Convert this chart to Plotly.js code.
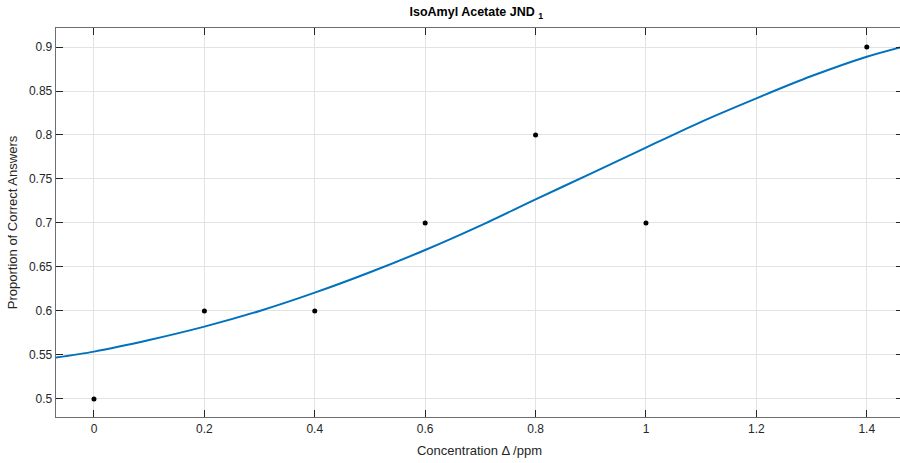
<!DOCTYPE html>
<html>
<head>
<meta charset="utf-8">
<script src="https://cdn.plot.ly/plotly-3.0.1.min.js"></script>
<style>
html,body{margin:0;padding:0;overflow:hidden;background:#fff;}
#chart{width:903px;height:463px;}
</style>
</head>
<body>
<div id="chart"></div>
<script>
// Observed data points
const concentration = [0, 0.2, 0.4, 0.6, 0.8, 1.0, 1.4];
const proportion = [0.5, 0.6, 0.6, 0.7, 0.8, 0.7, 0.9];

// Fitted curve
const fitX = [-0.069, 0, 0.1, 0.2, 0.3, 0.4, 0.5, 0.6, 0.7, 0.8, 0.9, 1.0, 1.1, 1.2, 1.3, 1.4, 1.466];
const fitY = [0.547, 0.5538, 0.567, 0.5822, 0.600, 0.6208, 0.644, 0.6693, 0.697, 0.7269, 0.756, 0.7857, 0.815, 0.8417, 0.867, 0.889, 0.9005];

// Axis ticks
const xTicks = [0, 0.2, 0.4, 0.6, 0.8, 1, 1.2, 1.4];
const xTickLabels = ['0', '0.2', '0.4', '0.6', '0.8', '1', '1.2', '1.4'];
const yTicks = [0.5, 0.55, 0.6, 0.65, 0.7, 0.75, 0.8, 0.85, 0.9];
const yTickLabels = ['0.5', '0.55', '0.6', '0.65', '0.7', '0.75', '0.8', '0.85', '0.9'];

const traces = [
  {
    x: fitX, y: fitY, type: 'scatter', mode: 'lines',
    line: {color: '#0072BD', width: 2, shape: 'spline', smoothing: 0.8},
    hoverinfo: 'skip', showlegend: false
  },
  {
    x: concentration, y: proportion, type: 'scatter', mode: 'markers',
    marker: {color: '#000000', size: 5},
    showlegend: false
  }
];

const axisCommon = {
  showline: true, linecolor: '#6e6e6e', linewidth: 1.3, mirror: 'ticks',
  ticks: 'inside', ticklen: 7, tickwidth: 1, tickcolor: '#262626',
  showgrid: true, gridcolor: '#e3e3e3', gridwidth: 1,
  zeroline: false,
  tickfont: {family: 'Liberation Sans, Arial, sans-serif', size: 12, color: '#262626'}
};

const layout = {
  width: 903, height: 463,
  margin: {l: 56, r: 0, t: 28, b: 46},
  paper_bgcolor: '#ffffff', plot_bgcolor: '#ffffff',
  title: {
    text: '<b>IsoAmyl Acetate JND </b><sub><b>1</b></sub>',
    font: {family: 'Liberation Sans, Arial, sans-serif', size: 12.5, color: '#000000'},
    x: 0.5275, xanchor: 'center', y: 0.975, yanchor: 'middle'
  },
  xaxis: Object.assign({}, axisCommon, {
    range: [-0.0688, 1.4656],
    tickvals: xTicks, ticktext: xTickLabels,
    title: {text: 'Concentration Δ /ppm', standoff: 11,
      font: {family: 'Liberation Sans, Arial, sans-serif', size: 13, color: '#262626'}}
  }),
  yaxis: Object.assign({}, axisCommon, {
    range: [0.4795, 0.9216],
    tickvals: yTicks, ticktext: yTickLabels,
    title: {text: 'Proportion of Correct Answers', standoff: 8,
      font: {family: 'Liberation Sans, Arial, sans-serif', size: 13, color: '#262626'}}
  })
};

Plotly.newPlot('chart', traces, layout, {displayModeBar: false, staticPlot: true});
</script>
</body>
</html>
